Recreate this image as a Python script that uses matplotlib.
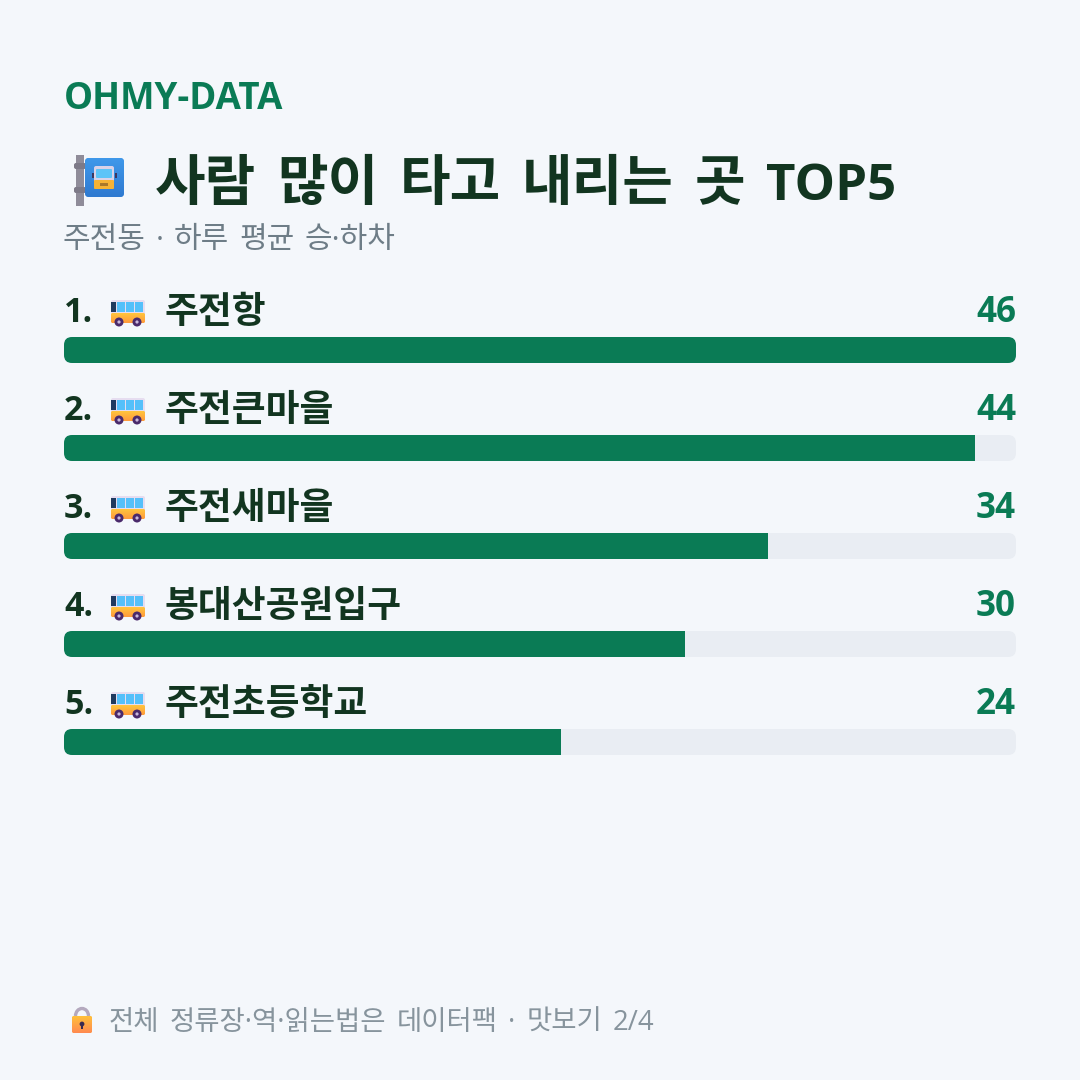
import matplotlib
matplotlib.use("Agg")
import matplotlib.pyplot as plt
from matplotlib.patches import FancyBboxPatch, Circle, Rectangle, Arc
import numpy as np

names = ["주전항", "주전큰마을", "주전새마을", "봉대산공원입구", "주전초등학교"]
values = [46, 44, 34, 30, 24]
brand = "OHMY-DATA"
title = "사람 많이 타고 내리는 곳"
title_tail = "TOP5"
subtitle = "주전동 · 하루 평균 승·하차"
footer = "전체 정류장·역·읽는법은 데이터팩 · 맛보기 2/4"

BG = "#F4F7FB"
GREEN = "#0A7B55"
DARK = "#123520"
TRACK = "#E9EDF3"
FONT = ["Open Sans", "Noto Sans CJK KR", "DejaVu Sans"]
KR = ["Noto Sans CJK KR", "DejaVu Sans"]


def px(size):
    return size * 0.72


def draw_words(ax, x, y, text, gap, **kw):
    # word by word so the gap between words can be wider than the font's space
    renderer = ax.figure.canvas.get_renderer()
    for word in text.split(" "):
        t = ax.text(x, y, word, va="baseline", **kw)
        box = t.get_window_extent(renderer)
        x = x + box.width + gap
    return x


def rounded(ax, x, y, w, h, r, color, z=2):
    p = FancyBboxPatch((x + r, y + r), w - 2 * r, h - 2 * r,
                       boxstyle=f"round,pad={r},rounding_size={r}",
                       fc=color, ec="none", zorder=z)
    ax.add_patch(p)
    return p


def gradient(ax, clip, x0, x1, y0, y1, top, bottom, z=3):
    c0 = np.array(matplotlib.colors.to_rgb(top))
    c1 = np.array(matplotlib.colors.to_rgb(bottom))
    t = np.linspace(0, 1, 32)[:, None, None]
    img = c0[None, None, :] * (1 - t) + c1[None, None, :] * t
    im = ax.imshow(img, extent=(x0, x1, y1, y0), aspect="auto", zorder=z)
    im.set_clip_path(clip)


def draw_small_bus(ax, top):
    # side view bus icon, top is the roof's y position
    rounded(ax, 111, top, 34, 17, 2, "#E6DDF0", 3)
    body = rounded(ax, 111, top + 13, 34, 10, 2, "#FFB02E", 3)
    gradient(ax, body, 111, 145, top + 13, top + 23, "#FFC53D", "#FF9A3C", 4)
    ax.add_patch(Rectangle((111, top + 2), 5, 10, fc="#1F3A5F", ec="none", zorder=4))
    for wx in [117, 126, 135]:
        ax.add_patch(Rectangle((wx, top + 2), 8, 10, fc="#55C0FA", ec="none", zorder=4))
    for wx in [119, 137]:
        ax.add_patch(Circle((wx, top + 22), 4.5, fc="#4A2A6B", ec="none", zorder=5))
        ax.add_patch(Circle((wx, top + 22), 1.6, fc="#C9B8DC", ec="none", zorder=6))


def draw_stop_sign(ax):
    # bus stop pole with a blue sign plate
    ax.add_patch(Rectangle((76, 155), 8, 51, fc="#8F8C99", ec="none", zorder=3))
    for y in [163, 187]:
        rounded(ax, 74, y, 12, 6, 2, "#7D7A88", 4)
    plate = rounded(ax, 85, 158, 39, 39, 4, "#3A8FE0", 4)
    gradient(ax, plate, 85, 124, 158, 197, "#3F98EA", "#2F7AD0", 5)
    rounded(ax, 94, 166, 20, 17, 2, "#D8D2E8", 6)
    rounded(ax, 96, 169, 16, 9, 1, "#5CC4F8", 7)
    rounded(ax, 94, 180, 20, 9, 1, "#F5B335", 7)
    ax.add_patch(Rectangle((100, 183), 8, 2.5, fc="#A9782A", ec="none", zorder=8))
    for x in [91.5, 114.5]:
        ax.add_patch(Rectangle((x, 173), 2, 5, fc="#3B3760", ec="none", zorder=6))


def draw_lock(ax):
    ax.add_patch(Arc((82, 1016), 13, 15, theta1=180, theta2=360, ec="#B4A9BE", lw=2.4, zorder=3))
    for x in [75.5, 88.5]:
        ax.plot([x, x], [1016, 1020], color="#B4A9BE", lw=2.4, zorder=3, solid_capstyle="butt")
    body = rounded(ax, 72, 1016, 20, 17, 2, "#FFB02E", 4)
    gradient(ax, body, 72, 92, 1016, 1033, "#FFC03A", "#FF8A50", 5)
    ax.add_patch(Circle((82, 1024), 2.4, fc="#3A2A50", ec="none", zorder=6))
    ax.add_patch(Rectangle((81, 1024), 2, 5, fc="#3A2A50", ec="none", zorder=6))


fig = plt.figure(figsize=(10.8, 10.8), dpi=100, facecolor=BG)

# full canvas axes in pixel units for text, icons and bar tracks
canvas = fig.add_axes([0, 0, 1, 1])
canvas.set_xlim(0, 1080)
canvas.set_ylim(1080, 0)
canvas.axis("off")

canvas.text(64, 109, brand, family=FONT, fontsize=px(36.6), fontweight="bold", color=GREEN, va="baseline")
end = draw_words(canvas, 155, 200, title, 21, family=KR, fontsize=px(55), fontweight="bold", color=DARK)
canvas.text(end, 200, title_tail, family=FONT, fontsize=px(51), fontweight="bold", color=DARK, va="baseline")
draw_words(canvas, 63, 248, subtitle, 10, family=FONT, fontsize=px(30), color="#6E7D87")
draw_stop_sign(canvas)

# bar axes: x runs on the value scale, one row per rank
bar_ax = fig.add_axes([64 / 1080, (1080 - 791) / 1080, 952 / 1080, 490 / 1080])
bar_ax.set_xlim(0, max(values))
bar_ax.set_ylim(len(values) + 0.5, 0.5)
bar_ax.axis("off")
bar_ax.patch.set_alpha(0)

ranks = np.arange(1, len(values) + 1)
bars = bar_ax.barh(ranks, values, height=26 / 98, color=GREEN, zorder=3)

for i, (name, val, bar) in enumerate(zip(names, values, bars)):
    cy = 350 + 98 * i
    track = rounded(canvas, 64, cy - 13, 952, 26, 8, TRACK)
    bar.set_clip_path(track)
    base = cy - 28
    canvas.text(64, base, f"{i + 1}.", family=FONT, fontsize=px(34), fontweight="bold", color=DARK, va="baseline")
    draw_small_bus(canvas, cy - 50)
    canvas.text(164, base + 1, name, family=KR, fontsize=px(36.8), fontweight="bold", color=DARK, va="baseline")
    canvas.text(1016, base, str(val), family=FONT, fontsize=px(35), fontweight="bold", color=GREEN, ha="right", va="baseline")

draw_lock(canvas)
draw_words(canvas, 109, 1030, footer, 10.5, family=FONT, fontsize=px(27.5), color="#87949D")

canvas.set_xlim(0, 1080)
canvas.set_ylim(1080, 0)
fig.savefig("out.png", dpi=100, facecolor=BG)
